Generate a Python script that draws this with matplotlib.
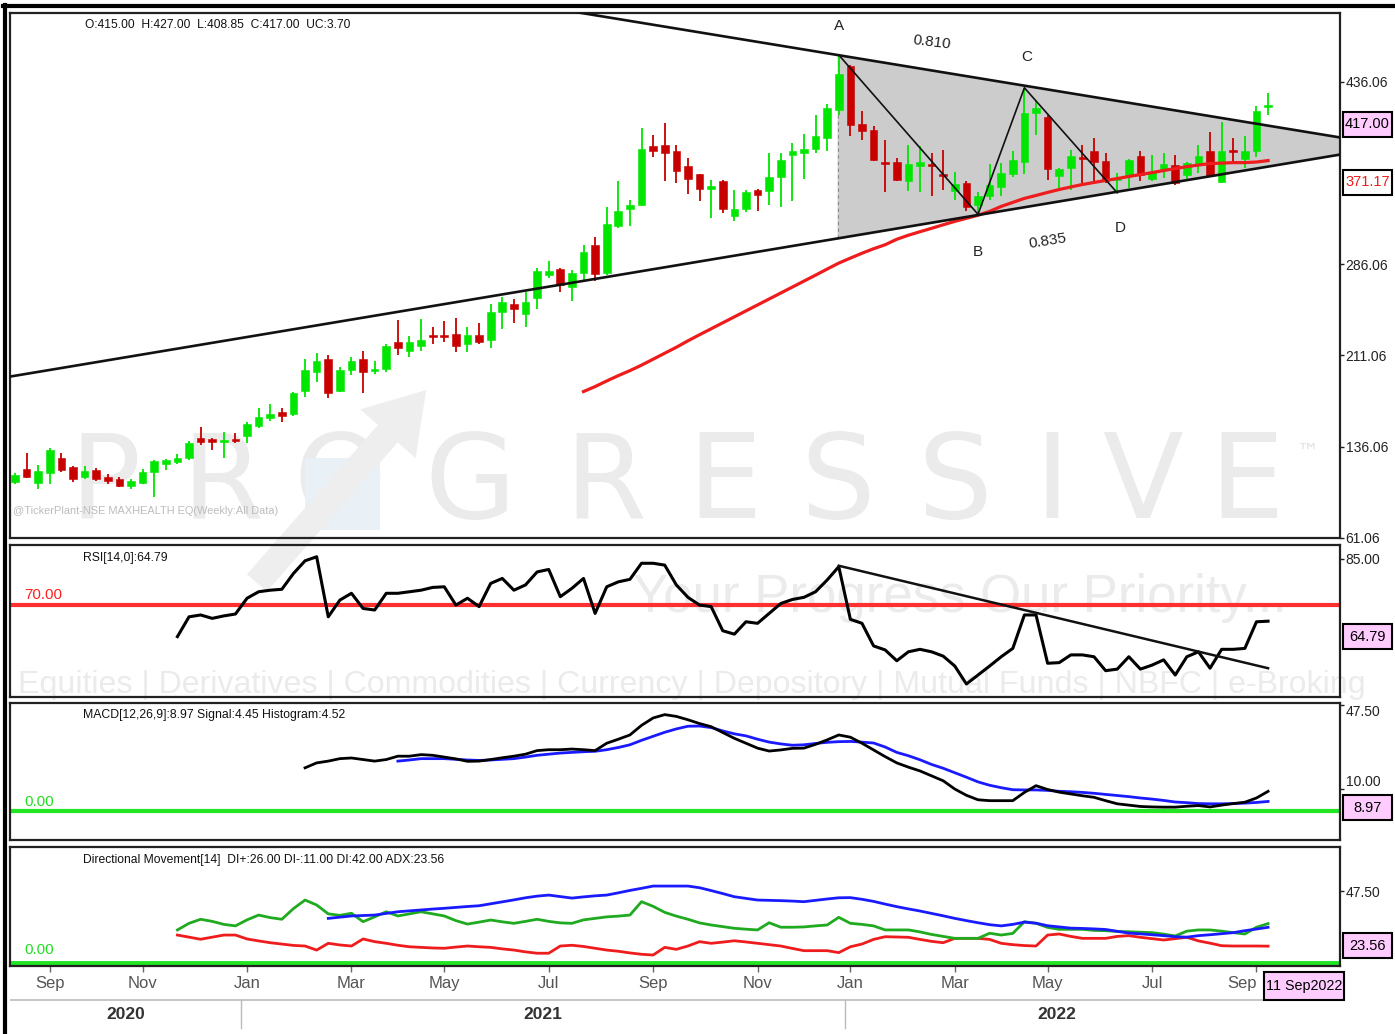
import numpy as np
import matplotlib
matplotlib.use('Agg')
import matplotlib.pyplot as plt
from matplotlib import font_manager as fm
from matplotlib.patches import Polygon, Rectangle, FancyArrowPatch
from matplotlib.lines import Line2D

# weekly OHLC, MAXHEALTH (NSE)
opens = [107, 118, 106, 114, 127, 119, 111, 116.6, 111, 109.3, 104, 106, 115, 122, 123, 126.5, 143, 142.5, 140, 142.3,
         145, 153.2, 159.2, 164.7, 162.5, 182, 197.4, 208, 181.5, 199.3, 208.3, 198, 199.5, 222, 215, 219, 227.5, 227.5, 229, 220.6,
         227.4, 224, 247, 253, 245, 258, 277, 282, 267, 279, 301.5, 279, 317, 331.5, 335, 383, 384, 379, 366.5, 360,
         348, 354, 326, 331.5, 347, 346, 358, 376, 377.5, 381, 390, 413, 449, 401, 396.5, 369.5, 370, 354.7, 367, 368,
         359.5, 346, 353, 335, 342, 349.6, 360.5, 370, 410, 407, 358.3, 365, 374.5, 378.7, 371, 355.6, 358.3, 375, 356.4, 364,
         367.8, 359.7, 368.4, 378.7, 353.4, 379.2, 372.5, 379.3, 415]
highs = [114, 131, 121, 135, 131, 120, 120, 118.6, 113.5, 110.8, 109.6, 118, 125, 126, 130, 141, 152, 143, 148.4, 147,
         156.5, 167.4, 170.7, 167.4, 181, 208, 213, 211, 201.5, 210, 215, 206.5, 220.6, 240, 227, 241, 234, 239.7, 242, 234,
         237.7, 253, 259, 257.5, 263, 283, 289, 283, 281, 301.5, 308, 333, 354, 339, 398, 392, 402, 384, 373, 360.5,
         355.5, 355.5, 347, 347, 347.5, 377, 377, 386, 393, 409, 418, 458, 450, 412, 400, 388, 373, 384, 383.5, 377,
         380, 362, 354, 345, 368.5, 369, 379, 431, 420.5, 409, 365, 380, 384, 389.5, 377, 361, 372.5, 379, 375.5, 377,
         375.5, 370, 384, 395, 403, 389.6, 391, 416, 427]
lows = [105, 110, 101, 105, 115, 107, 109, 108, 105.5, 103, 101, 105, 95, 117, 122, 125, 137.5, 133, 127, 138.6,
        139.3, 151, 156.8, 156.5, 161, 177, 189, 176, 181, 195, 179.7, 196, 197.4, 211, 210, 215, 220.6, 222, 214, 214,
        220.6, 217, 233, 238, 234, 249, 275, 263, 256, 272, 272, 277, 316, 317, 334, 374.5, 354, 353, 344, 338,
        324, 328, 321.5, 329, 330, 335, 333, 338, 356, 377, 379, 409, 391.5, 388, 370.5, 345, 354, 346, 345, 342,
        347, 339, 330, 327, 339, 342, 358, 360, 392, 355.5, 349, 347, 353, 354, 353, 344.7, 349, 354, 354, 357,
        351.5, 355.6, 361, 358.3, 353, 369.2, 365, 374, 408.85]
closes = [113, 111, 116, 133, 117, 109, 116, 109.5, 107.4, 104, 107.4, 115, 124, 125, 127, 139.3, 139.5, 139.5, 141, 140.7,
          155, 160.6, 162.5, 161.4, 180, 199, 206, 180, 199, 206, 197.4, 199.5, 218.7, 217, 222, 224, 226.5, 226.5, 219, 227.4,
          222.4, 246.5, 255, 249, 255, 280, 280, 269, 279, 296, 278, 319, 330, 335, 381, 379, 377.5, 363, 356, 347.5,
          350.5, 331.5, 331.5, 345, 342.5, 357.5, 372, 379, 381, 391, 414, 442, 400.5, 395.5, 372, 368.5, 355.5, 368.4, 370, 366.5,
          358.5, 352, 333, 342, 351, 361, 371.5, 410, 414, 364, 364.4, 375, 372.5, 369.7, 354, 357, 371.4, 359, 362, 368.4,
          353, 369.2, 375.2, 358.8, 378.7, 378.2, 378.7, 412.2, 417]

ma_start = 49
ma50 = [181.3, 185.4, 190.0, 194.4, 198.5, 203.0, 207.9, 212.8, 217.7, 223.0,
        228.0, 232.9, 237.8, 242.7, 247.6, 252.5, 257.4, 262.3, 267.2, 272.1,
        277.0, 282.0, 286.9, 291.0, 295.0, 298.7, 302.0, 306.5, 309.8, 312.7,
        315.5, 318.4, 321.2, 323.7, 326.2, 329.4, 333.5, 336.8, 340.1, 342.5,
        345.0, 347.4, 349.5, 351.5, 353.2, 354.8, 356.4, 358.1, 359.7, 361.3,
        363.0, 364.6, 366.2, 367.5, 368.7, 369.1, 369.5, 369.5, 370.0, 371.17]

rsi_start = 14
rsi = [59.8, 66.2, 66.8, 65.7, 66.5, 67.1, 72.2, 74.3, 74.8, 75.1,
       80.2, 84.3, 85.6, 66.2, 71.6, 73.8, 68.9, 68.4, 73.8, 73.8,
       74.3, 74.8, 75.7, 75.9, 70.0, 72.2, 69.5, 77.0, 78.6, 74.8,
       76.5, 80.7, 81.5, 72.7, 75.4, 78.6, 67.3, 75.9, 77.5, 78.3,
       83.5, 83.5, 82.9, 76.5, 72.5, 70.0, 69.5, 61.7, 60.6, 64.6,
       64.1, 67.3, 70.5, 71.8, 72.5, 74.3, 78.1, 82.4, 65.4, 64.1,
       56.8, 55.5, 52.0, 54.9, 55.7, 54.9, 53.5, 50.3, 44.5, 47.4,
       50.3, 53.3, 56.0, 66.8, 66.8, 51.2, 51.4, 53.9, 53.9, 53.3,
       48.8, 49.3, 53.3, 49.3, 50.6, 52.3, 47.4, 53.3, 54.9, 49.6,
       55.7, 55.7, 56.0, 64.6, 64.79]
rsi_trend_x = [71, 108]
rsi_trend_y = [82.7, 49.6]

macd_start = 25
macd = [19.5, 21.7, 22.5, 23.6, 23.9, 23.2, 22.5, 23.2, 24.7, 24.7,
        25.4, 25.1, 24.3, 23.5, 22.4, 22.5, 23.2, 24.0, 24.7, 25.6,
        27.2, 27.6, 27.6, 27.9, 27.6, 27.2, 30.5, 32.3, 34.2, 38.5,
        41.8, 43.3, 42.5, 41.0, 39.3, 37.9, 35.3, 32.7, 30.5, 28.3,
        27.0, 27.5, 28.2, 28.3, 30.0, 32.0, 34.2, 33.2, 30.5, 27.5,
        24.5, 21.7, 19.8, 18.1, 15.9, 13.7, 10.0, 7.2, 5.2, 4.8,
        4.8, 4.8, 8.5, 11.5, 9.8, 8.6, 7.8, 7.0, 6.3, 4.8,
        3.4, 2.8, 2.2, 2.0, 1.9, 1.9, 2.3, 2.6, 2.0, 2.8,
        3.5, 4.1, 6.0, 8.97]
signal_start = 33
signal = [22.5, 23.0, 23.6, 23.6, 23.6, 23.3, 23.0, 22.8, 23.0, 23.3,
          23.6, 24.3, 25.1, 25.6, 26.1, 26.4, 26.7, 26.9, 27.6, 28.6,
          29.8, 31.8, 33.6, 35.4, 36.9, 38.1, 38.2, 37.5, 36.0, 34.7,
          33.8, 32.3, 31.0, 30.2, 29.6, 29.8, 30.4, 30.9, 31.2, 31.3,
          31.0, 30.6, 28.8, 26.4, 24.9, 23.1, 21.0, 19.3, 17.3, 15.3,
          13.2, 11.7, 10.6, 9.7, 9.6, 9.6, 9.4, 9.0, 8.8, 8.5,
          8.1, 7.6, 7.1, 6.6, 6.0, 5.5, 4.9, 4.2, 3.9, 3.5,
          3.4, 3.4, 3.5, 3.7, 4.0, 4.45]

di_start = 14
di_plus = [21.8, 26.2, 28.9, 27.5, 25.5, 24.5, 28.5, 31.7, 30.0, 28.9,
           36.0, 41.7, 38.4, 32.5, 31.5, 32.9, 27.3, 30.5, 33.9, 31.1,
           32.5, 33.9, 32.5, 31.1, 28.0, 25.7, 27.0, 28.4, 27.2, 26.2,
           27.5, 28.9, 27.5, 26.5, 26.2, 28.5, 29.5, 30.5, 31.0, 31.7,
           40.6, 37.5, 33.5, 31.0, 28.9, 26.5, 25.1, 24.0, 22.9, 22.3,
           21.8, 26.6, 23.6, 23.6, 23.8, 24.5, 25.1, 30.2, 26.2, 25.5,
           24.5, 21.8, 21.8, 21.8, 20.5, 18.8, 17.5, 16.2, 16.2, 16.2,
           19.6, 18.4, 19.5, 27.3, 26.2, 23.5, 22.2, 22.2, 22.2, 21.5,
           21.3, 20.8, 20.6, 20.3, 20.0, 19.0, 17.8, 21.0, 21.8, 21.8,
           21.0, 20.0, 19.1, 23.6, 26.0]
di_minus = [18.4, 17.0, 15.6, 17.0, 18.4, 18.4, 15.8, 14.5, 13.3, 12.4,
            11.5, 11.1, 8.4, 12.9, 11.8, 11.1, 15.8, 14.0, 12.9, 11.6,
            10.6, 10.2, 9.8, 9.6, 10.4, 11.1, 10.6, 10.2, 9.2, 8.4,
            7.2, 6.3, 6.3, 11.1, 11.6, 10.8, 9.6, 8.4, 7.6, 6.5,
            5.6, 5.1, 10.2, 8.9, 11.1, 14.0, 12.9, 13.7, 14.6, 13.8,
            12.9, 12.0, 11.1, 9.5, 8.0, 8.0, 8.0, 6.7, 10.6, 12.4,
            15.5, 17.3, 17.1, 16.9, 15.5, 14.2, 13.3, 16.2, 16.2, 16.2,
            15.5, 12.9, 12.0, 11.4, 11.1, 18.4, 19.1, 17.5, 16.2, 16.2,
            16.2, 17.5, 18.0, 16.9, 16.0, 15.1, 16.0, 16.9, 14.5, 13.0,
            11.3, 11.1, 11.1, 11.1, 11.0]
adx_start = 27
adx = [29.5, 30.3, 31.1, 31.4, 31.7, 32.8, 33.9, 34.5, 35.1, 35.7,
       36.2, 36.8, 37.4, 37.9, 39.2, 40.5, 41.8, 43.2, 44.3, 45.0,
       44.0, 43.0, 43.8, 44.5, 45.0, 46.5, 48.1, 49.5, 51.0, 51.0,
       51.0, 51.0, 49.9, 48.0, 46.0, 43.9, 42.8, 41.7, 41.5, 41.3,
       41.0, 40.6, 41.5, 42.4, 43.2, 43.3, 42.2, 40.8, 39.0, 37.3,
       35.8, 34.4, 32.8, 31.2, 29.5, 28.0, 26.6, 25.3, 24.5, 25.5,
       27.0, 26.3, 24.6, 23.8, 23.0, 22.8, 22.5, 22.1, 20.9, 19.7,
       19.2, 18.6, 18.0, 17.3, 17.0, 18.0, 18.6, 19.3, 20.0, 21.3,
       22.4, 23.56]

# triangle trendlines (bar index, price) and ABCD swing bars
upper_x, upper_y = [48.0, 114.2], [493.8, 390.2]
lower_x, lower_y = [-0.43, 114.2], [193.6, 376.1]
swing_bars = [71, 83, 87, 95]     # A (high), B (low), C (high), D (low)
swing_names = ['A', 'B', 'C', 'D']
ratio_labels = ['0.810', '0.835']

month_idx = [3, 11, 20, 29, 37, 46, 55, 64, 72, 81, 89, 98, 107]
month_lbl = ['Sep', 'Nov', 'Jan', 'Mar', 'May', 'Jul', 'Sep', 'Nov', 'Jan', 'Mar', 'May', 'Jul', 'Sep']
year_lbl = ['2020', '2021', '2022']
year_bounds = [19.5, 71.5]
last_date = '11 Sep2022'

# ---------------------------------------------------------------
W, H = 1395, 1034
names = {f.name for f in fm.fontManager.ttflist}
NARROW = 'Liberation Sans Narrow' if 'Liberation Sans Narrow' in names else 'Liberation Sans'
plt.rcParams['font.family'] = [NARROW, 'DejaVu Sans']

GREEN, RED, PINK = '#00e600', '#c80000', '#ffccff'
XMIN, XMAX = -0.43, 114.2

fig = plt.figure(figsize=(W / 100, H / 100), dpi=100)
fig.patch.set_facecolor('white')
R = fig.canvas.get_renderer()


def fx(px):
    return px / W


def fy(py):
    return 1 - py / H


def fit(t, width_px):
    w = t.get_window_extent(R).width
    t.set_fontsize(t.get_fontsize() * width_px / w)
    return t


def panel(y0, y1):
    ax = fig.add_axes([fx(10), fy(y1), 1330 / W, (y1 - y0) / H])
    ax.set_facecolor('none')
    for s in ax.spines.values():
        s.set_color('#222222')
        s.set_linewidth(1.6)
    ax.set_xlim(XMIN, XMAX)
    ax.yaxis.tick_right()
    ax.tick_params(axis='y', direction='out', length=3, width=1, colors='#222222',
                   labelsize=10, pad=1)
    ax.tick_params(axis='x', bottom=False, labelbottom=False)
    return ax


def tag(x0, y_top, w, txt, fc=PINK, tc='black', h=25, size=10.5):
    # box in figure pixels (top-left origin)
    fig.add_artist(Rectangle((fx(x0), fy(y_top + h)), w / W, h / H, transform=fig.transFigure,
                             fc=fc, ec='black', lw=1.5, zorder=9))
    t = fig.text(fx(x0 + w / 2), fy(y_top + h / 2), txt, ha='center', va='center',
                 fontsize=size, color=tc, zorder=10)
    if t.get_window_extent(R).width > w - 4:
        fit(t, w - 4)


def value_box(ax, val, txt, fc=PINK, tc='black', dy=5):
    ypx = H - ax.transData.transform((0, val))[1]
    tag(1343, ypx + dy, 49, txt, fc, tc)


# ---- watermark (behind everything) ----
wm = '#ebebeb'
for k, ch in enumerate('PROGRESSIVE'):
    cx = [105, 222, 340, 470, 605, 725, 838, 955, 1052, 1142, 1247][k]
    fig.text(fx(cx), fy(486), ch, ha='center', va='center', fontsize=85, color=wm,
             family='DejaVu Sans', zorder=-5)
fig.text(fx(1308), fy(453), '\u2122', ha='center', va='center', fontsize=16, color='#e2e2e2',
         family='DejaVu Sans', zorder=-5)
fig.add_artist(Rectangle((fx(305), fy(530)), 75 / W, 72 / H, transform=fig.transFigure,
                         fc='#e9f1f6', ec='none', zorder=-4))
fig.add_artist(FancyArrowPatch((fx(255), fy(585)), (fx(428), fy(388)), transform=fig.transFigure,
                               arrowstyle='simple,head_length=1.1,head_width=1.4,tail_width=0.5',
                               mutation_scale=38, color='#eeeeee', lw=0, zorder=-4))
t = fig.text(fx(960), fy(598), 'Your Progress Our Priority...', ha='center', va='center',
             fontsize=36, color=wm, zorder=-5)
fit(t, 655)
t = fig.text(fx(18), fy(685), 'Equities | Derivatives | Commodities | Currency | Depository | '
             'Mutual Funds | NBFC | e-Broking', ha='left', va='center', fontsize=30, color=wm, zorder=-5)
fit(t, 1344)

# ---- price panel ----
ax = panel(13, 538)
ax.set_ylim(60.9, 492.5)
xb = np.arange(len(closes))
o, h, l, c = map(np.asarray, (opens, highs, lows, closes))
cols = np.where(c >= o, GREEN, RED)

ux = np.linspace(swing_bars[0] - 0.1, XMAX, 2)
tri_top = np.interp(ux, upper_x, upper_y)
tri_bot = np.interp(ux, lower_x, lower_y)
ax.add_patch(Polygon([(ux[0], tri_top[0]), (ux[1], tri_top[1]), (ux[1], tri_bot[1]), (ux[0], tri_bot[0])],
                     closed=True, fc='#cccccc', ec='none', zorder=1))
ax.plot([ux[0], ux[0]], [tri_bot[0], tri_top[0]], color='#888888', lw=0.8, ls=(0, (3, 3)), zorder=1.5)

ax.vlines(xb, l, h, colors=cols, lw=1.3, zorder=3)
ax.bar(xb, np.maximum(np.abs(c - o), 1.3), bottom=np.minimum(o, c), width=0.66,
       color=cols, edgecolor=cols, linewidth=0.4, zorder=3.2)
ax.plot(np.arange(ma_start, ma_start + len(ma50)), ma50, color='#ee1c1c', lw=2.3, zorder=3.5)

ax.plot(upper_x, upper_y, color='#111111', lw=1.9, zorder=4, clip_on=True)
ax.plot(lower_x, lower_y, color='#111111', lw=1.9, zorder=4, clip_on=True)

sw_y = [h[swing_bars[0]], l[swing_bars[1]], h[swing_bars[2]], l[swing_bars[3]]]
ax.plot(swing_bars, sw_y, color='#111111', lw=1.2, zorder=4)
offs = [(0, 21), (0, -27), (2, 22), (2, -25)]
for bx, by, nm, off in zip(swing_bars, sw_y, swing_names, offs):
    ax.annotate(nm, (bx, by), xytext=off, textcoords='offset points', ha='center', va='center',
                fontsize=11, color='#222222', zorder=6)
ax.annotate(ratio_labels[0], ((swing_bars[0] + swing_bars[2]) / 2, (sw_y[0] + sw_y[2]) / 2),
            xytext=(0, 21), textcoords='offset points', ha='center', va='center', fontsize=11,
            rotation=-7, color='#222222')
ax.annotate(ratio_labels[1], ((swing_bars[1] + swing_bars[3]) / 2, (sw_y[1] + sw_y[3]) / 2),
            xytext=(0, -27), textcoords='offset points', ha='center', va='center', fontsize=11,
            rotation=9, color='#222222')

ax.set_yticks([61.06, 136.06, 211.06, 286.06, 436.06])
ax.set_yticklabels(['61.06', '136.06', '211.06', '286.06', '436.06'])
value_box(ax, closes[-1], '%.2f' % closes[-1], dy=7)
value_box(ax, ma50[-1], '%.2f' % ma50[-1], fc='white', tc='#ee1c1c', dy=9)
t = fig.text(fx(85), fy(25), 'O:%.2f  H:%.2f  L:%.2f  C:%.2f  UC:3.70' % (opens[-1], highs[-1], lows[-1], closes[-1]),
             ha='left', va='center', fontsize=10, color='#111111')
fit(t, 265)
t = fig.text(fx(13), fy(511), '@TickerPlant-NSE MAXHEALTH EQ(Weekly:All Data)', ha='left', va='center',
             fontsize=10, color='#bdbdbd')
fit(t, 265)

# ---- RSI ----
ar = panel(545, 697)
ar.set_ylim(40.3, 89.4)
ar.axhline(70, color='#ff3030', lw=3, zorder=2)
ar.plot(np.arange(rsi_start, rsi_start + len(rsi)), rsi, color='black', lw=2.2, zorder=3)
ar.plot(rsi_trend_x, rsi_trend_y, color='#111111', lw=1.8, zorder=3)
ar.set_yticks([85])
ar.set_yticklabels(['85.00'])
ar.text(0.011, 70.9, '70.00', transform=ar.get_yaxis_transform(), color='#ff2020', fontsize=11,
        ha='left', va='bottom')
value_box(ar, rsi[-1], '%.2f' % rsi[-1], dy=3)
t = fig.text(fx(83), fy(558), 'RSI[14,0]:%.2f' % rsi[-1], ha='left', va='center', fontsize=10, color='#111111')
fit(t, 84)

# ---- MACD ----
am = panel(703, 840)
am.set_ylim(-12.8, 48.5)
am.axhline(0, color='#22e622', lw=3, zorder=2)
am.plot(np.arange(signal_start, signal_start + len(signal)), signal, color='#1a1aff', lw=2.0, zorder=3)
am.plot(np.arange(macd_start, macd_start + len(macd)), macd, color='black', lw=2.0, zorder=3.5)
am.set_yticks([10, 47.5])
am.set_yticklabels(['10.00', '47.50'])
am.get_yticklabels()[1].set_va('top')
am.get_yticklabels()[0].set_va('bottom')
am.text(0.011, 1.2, '0.00', transform=am.get_yaxis_transform(), color='#22dd22', fontsize=11,
        ha='left', va='bottom')
value_box(am, macd[-1], '%.2f' % macd[-1], dy=4)
t = fig.text(fx(83), fy(715), 'MACD[12,26,9]:%.2f Signal:%.2f Histogram:%.2f'
             % (macd[-1], signal[-1], macd[-1] - signal[-1]), ha='left', va='center', fontsize=10, color='#111111')
fit(t, 262)

# ---- Directional movement ----
ad = panel(847, 966)
ad.set_ylim(-2.2, 77)
ad.axhline(0, color='#22e622', lw=3.5, zorder=2)
xd = np.arange(di_start, di_start + len(di_plus))
ad.plot(xd, di_minus, color='#ee1c1c', lw=2.0, zorder=3)
ad.plot(xd, di_plus, color='#1faa1f', lw=2.0, zorder=3)
ad.plot(np.arange(adx_start, adx_start + len(adx)), adx, color='#1a1aff', lw=2.0, zorder=3)
ad.set_yticks([47.5])
ad.set_yticklabels(['47.50'])
ad.text(0.011, 3.5, '0.00', transform=ad.get_yaxis_transform(), color='#22dd22', fontsize=11,
        ha='left', va='bottom')
value_box(ad, adx[-1], '%.2f' % adx[-1], dy=6)
t = fig.text(fx(83), fy(860), 'Directional Movement[14]  DI+:%.2f DI-:%.2f DI:42.00 ADX:%.2f'
             % (di_plus[-1], di_minus[-1], adx[-1]), ha='left', va='center', fontsize=10, color='#111111')
fit(t, 360)

ad.set_xticks(month_idx)
ad.set_xticklabels(month_lbl)
ad.tick_params(axis='x', bottom=True, labelbottom=True, direction='out', length=4, width=1,
               colors='#666666', labelsize=12, pad=3)
for lb in ad.get_xticklabels():
    lb.set_color('#555555')
ad.get_xticklabels()[-1].set_ha('right')

# ---- year row ----
ay = fig.add_axes([fx(10), fy(1032), 1330 / W, 66 / H])
ay.set_xlim(XMIN, XMAX)
ay.set_ylim(0, 1)
ay.axis('off')
last = len(closes) - 1
ay.plot([XMIN, last], [0.485, 0.485], color='#bbbbbb', lw=1.2)
for b in year_bounds:
    ay.plot([b, b], [0.485, 0.06], color='#bbbbbb', lw=1.0)
edges = [XMIN] + year_bounds + [last]
for k, yl in enumerate(year_lbl):
    ay.text((edges[k] + edges[k + 1]) / 2, 0.27, yl, ha='center', va='center', fontsize=12.5,
            color='#333333', fontweight='bold')

tag(1264, 972, 80, last_date, h=28, size=10.5)

# outer frame
fig.add_artist(Line2D([fx(4.5), fx(4.5)], [fy(5), 0], lw=3, color='black', transform=fig.transFigure))
fig.add_artist(Line2D([fx(3), 1], [fy(5.5), fy(5.5)], lw=3, color='black', transform=fig.transFigure))

fig.savefig('out.png', dpi=100)
